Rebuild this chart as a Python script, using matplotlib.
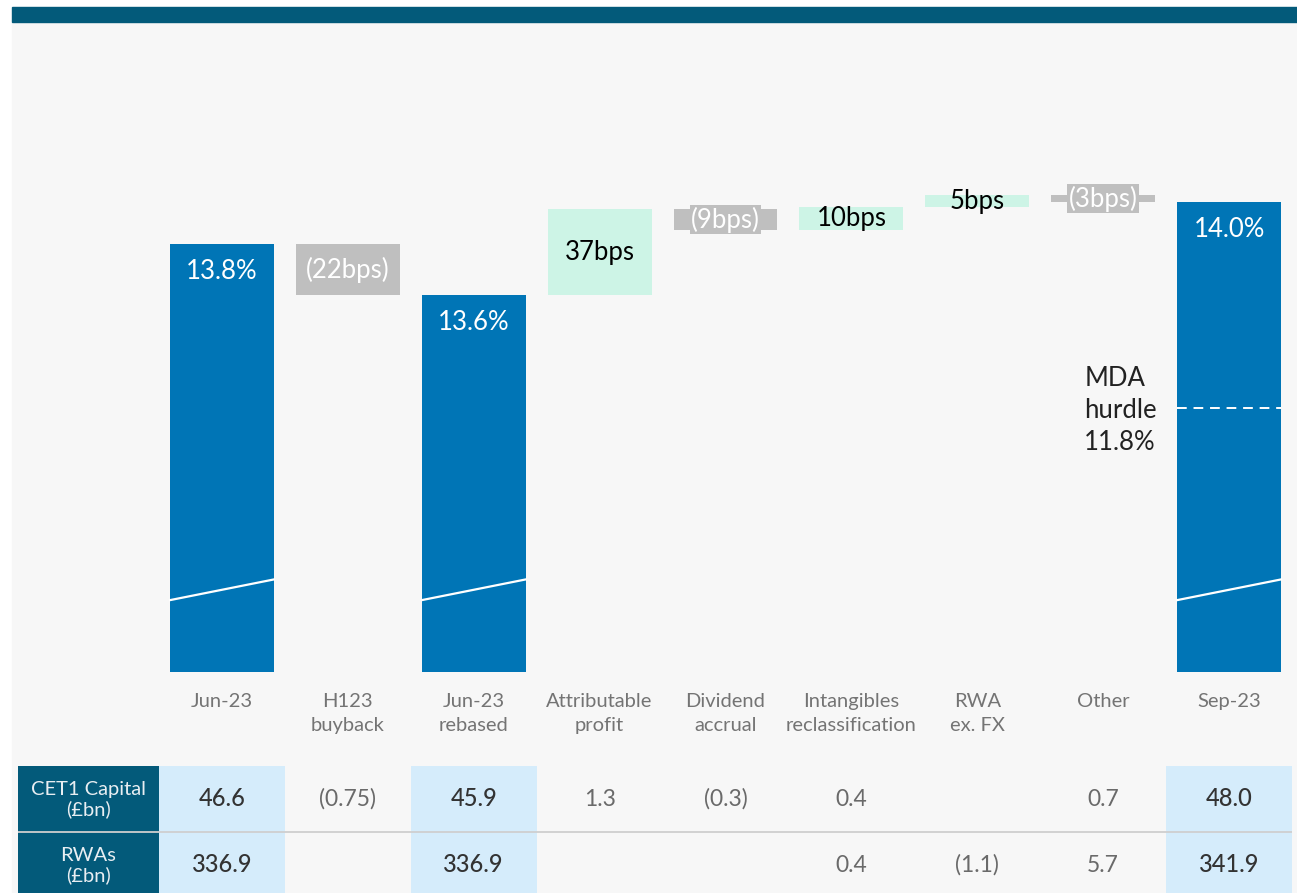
import numpy as np
import matplotlib.pyplot as plt
from matplotlib.patches import Rectangle
from matplotlib.transforms import blended_transform_factory

plt.rcParams['font.family'] = ['Lato', 'DejaVu Sans']

# CET1 ratio walk, Jun-23 to Sep-23
categories = ['Jun-23', 'H123\nbuyback', 'Jun-23\nrebased', 'Attributable\nprofit',
              'Dividend\naccrual', 'Intangibles\nreclassification', 'RWA\nex. FX',
              'Other', 'Sep-23']
kinds = ['total', 'delta', 'total', 'delta', 'delta', 'delta', 'delta', 'delta', 'total']
start_ratio = 13.82
moves_bps = [0, -22, 0, 37, -9, 10, 5, -3, 0]
mda_hurdle = 11.8

cet1_capital = ['46.6', '(0.75)', '45.9', '1.3', '(0.3)', '0.4', '', '0.7', '48.0']
rwas = ['336.9', '', '336.9', '', '', '0.4', '(1.1)', '5.7', '341.9']

BLUE = '#0075b6'
GREY = '#bfbfbf'
MINT = '#cdf4e6'
TEAL = '#035a7a'
PANEL = '#f7f7f7'
CELL = '#d5ecfb'

# broken axis: squeeze everything below the hurdle, stretch the top part
brk_vals = [0, 11.8, 13.6, 20.0]
brk_pos = [0, 264, 377, 377 + 6.4 * 232]


def fwd(v):
    return np.interp(v, brk_vals, brk_pos)


def inv(p):
    return np.interp(p, brk_pos, brk_vals)


W, H = 1297, 893
fig = plt.figure(figsize=(W / 100, H / 100), dpi=100)
fig.patches.append(Rectangle((12 / W, 0), 1 - 12 / W, 1 - 22 / H,
                             transform=fig.transFigure, color=PANEL, zorder=-5))
fig.patches.append(Rectangle((12 / W, 1 - 22 / H), 1 - 12 / W, 15 / H,
                             transform=fig.transFigure, color=TEAL, zorder=-5))

ax = fig.add_axes([159 / W, 1 - 672 / H, (1292 - 159) / W, 609 / H])
ax.set_facecolor('none')
ax.set_yscale('function', functions=(fwd, inv))
ax.set_xlim(-0.5, 8.5)
ax.set_ylim(0, 14.6)
for s in ax.spines.values():
    s.set_visible(False)
ax.set_yticks([])
ax.set_xticks(range(len(categories)))
ax.set_xticklabels(categories, color='#747474', fontsize=14.5, linespacing=1.5)
ax.tick_params(axis='x', length=0, pad=15)

bw = 0.826
blend = blended_transform_factory(ax.transData, ax.transAxes)
level = start_ratio
for i, (kind, bps) in enumerate(zip(kinds, moves_bps)):
    if kind == 'total':
        ax.bar(i, level, width=bw, color=BLUE, zorder=2)
        ax.annotate(f'{level:.1f}%', (i, level), xytext=(0, -20), textcoords='offset points',
                    ha='center', va='center', color='white', fontsize=18.5)
        # axis break marker
        ax.plot([i - bw / 2, i + bw / 2], [0.118, 0.152], transform=blend,
                color='white', lw=1.6, zorder=3)
    else:
        new = level + bps / 100
        lo, hi = min(level, new), max(level, new)
        col = MINT if bps > 0 else GREY
        ax.bar(i, hi - lo, bottom=lo, width=bw, color=col, zorder=2)
        mid = inv((fwd(lo) + fwd(hi)) / 2)
        if bps > 0:
            ax.text(i, mid, f'{bps}bps', ha='center', va='center', color='black',
                    fontsize=18.5, zorder=4)
        else:
            ax.text(i, mid, f'({-bps}bps)', ha='center', va='center', color='white',
                    fontsize=18.5, zorder=4,
                    bbox=dict(boxstyle='square,pad=0.05', fc=GREY, ec='none'))
        level = new

# MDA hurdle marker on the closing bar
ax.plot([8 - bw / 2, 8 + bw / 2], [mda_hurdle, mda_hurdle], color='white',
        lw=1.4, ls=(0, (5, 3.5)), zorder=3)
ax.annotate(f'MDA\nhurdle\n{mda_hurdle}%', (6.85, mda_hurdle), xytext=(0, -2),
            textcoords='offset points', ha='left', va='center',
            color='#222222', fontsize=18.5, linespacing=1.35)

# table underneath
tab = fig.add_axes([18 / W, 0, (1292 - 18) / W, 127 / H])
tab.set_xlim(-1.62, 8.5)
tab.set_ylim(0, 127)
tab.axis('off')
tab.add_patch(Rectangle((-1.62, 0), 1.12, 127, color=TEAL, lw=0))
for i, kind in enumerate(kinds):
    if kind == 'total':
        tab.add_patch(Rectangle((i - 0.5, 0), 1, 127, color=CELL, lw=0))
tab.plot([-1.62, 8.5], [61, 61], color='#cfcfcf', lw=1.3)
tab.text(-1.06, 93, 'CET1 Capital\n(£bn)', ha='center', va='center',
         color='#e8eef2', fontsize=14.5, linespacing=1.15)
tab.text(-1.06, 27, 'RWAs\n(£bn)', ha='center', va='center',
         color='#e8eef2', fontsize=14.5, linespacing=1.15)
for row_y, row in [(94, cet1_capital), (28, rwas)]:
    for i, val in enumerate(row):
        if kinds[i] == 'total':
            tab.text(i, row_y, val, ha='center', va='center', color='#333333',
                     fontsize=17, fontweight='medium')
        else:
            tab.text(i, row_y, val, ha='center', va='center', color='#6a6a6a',
                     fontsize=16.5)

fig.savefig('out.png', dpi=100)
